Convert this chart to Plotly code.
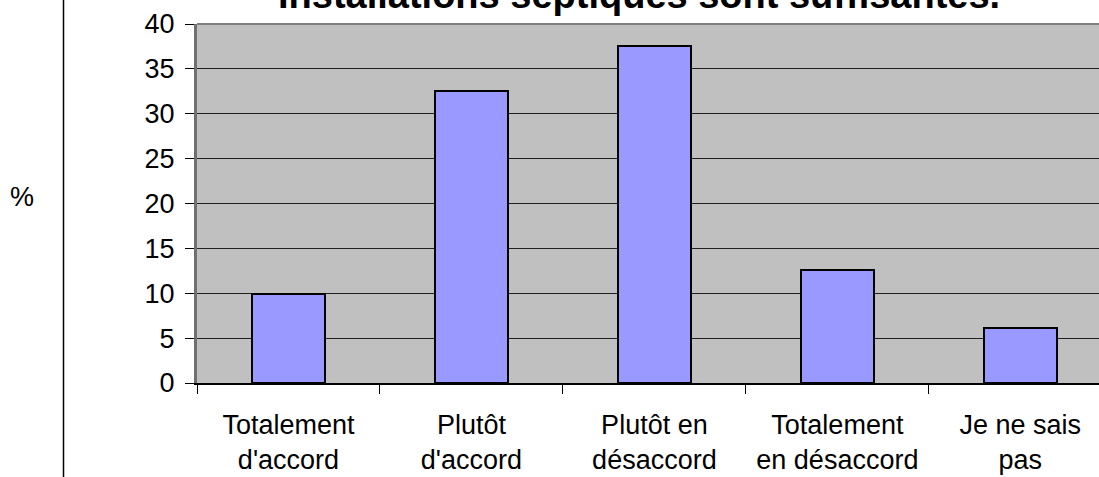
import plotly.graph_objects as go

categories = ["Totalement<br>d'accord", "Plutôt<br>d'accord", "Plutôt en<br>désaccord",
              "Totalement<br>en désaccord", "Je ne sais<br>pas"]
values = [9.9, 32.5, 37.5, 12.6, 6.1]
title_text = "Installations septiques sont suffisantes."
y_label = "%"
y_ticks = [0, 5, 10, 15, 20, 25, 30, 35, 40]

W, H = 1099, 477
ML, MR, MT, MB = 197, 0, 24, 94
PW, PH = W - ML - MR, H - MT - MB
FONT = "Liberation Sans, Arial, sans-serif"

x_pos = list(range(len(categories)))

fig = go.Figure()
fig.add_trace(go.Bar(
    x=x_pos, y=values, width=0.4,
    marker=dict(color="#9999FF", line=dict(color="black", width=2)),
))

def px_to_paper_x(px):
    return (px - ML) / PW

def px_to_paper_y(py):
    return 1 - (py - MT) / PH

fig.update_layout(
    width=W, height=H,
    margin=dict(l=ML, r=MR, t=MT, b=MB, pad=0),
    paper_bgcolor="white", plot_bgcolor="#C0C0C0",
    showlegend=False, bargap=0,
    font=dict(family=FONT, size=27, color="black"),
    xaxis=dict(
        range=[-0.5, 4.43], tickmode="array", tickvals=x_pos, ticktext=categories,
        ticks="", showgrid=False, zeroline=False,
        showline=True, linecolor="black", linewidth=1.5,
        ticklabelstandoff=17,
        tickfont=dict(size=27, family=FONT),
        minor=dict(tick0=-0.5, dtick=1, ticks="outside", ticklen=9,
                   tickcolor="black", tickwidth=1, showgrid=False),
    ),
    yaxis=dict(
        range=[0, 40], tickmode="array", tickvals=y_ticks,
        ticks="outside", ticklen=9, tickcolor="black", tickwidth=1,
        showgrid=True, gridcolor="#202020", gridwidth=1,
        zeroline=False, showline=True, linecolor="#707070", linewidth=3,
        ticklabelstandoff=5,
        tickfont=dict(size=27, family=FONT),
    ),
)

# top border of plot area
fig.add_shape(type="line", xref="paper", yref="paper", x0=0, x1=1, y0=1, y1=1,
              line=dict(color="#808080", width=2))
# left vertical frame line of the chart
fig.add_shape(type="line", xref="paper", yref="paper",
              x0=px_to_paper_x(63.5), x1=px_to_paper_x(63.5),
              y0=px_to_paper_y(H + 5), y1=px_to_paper_y(-5),
              line=dict(color="black", width=1.5))

# y-axis title
fig.add_annotation(text=y_label, xref="paper", yref="paper",
                   x=px_to_paper_x(22), y=px_to_paper_y(197),
                   xanchor="center", yanchor="middle", showarrow=False,
                   font=dict(size=27, family=FONT))
# chart title (partly cut at the top)
fig.add_annotation(text="<b>" + title_text + "</b>", xref="paper", yref="paper",
                   x=px_to_paper_x(639), y=px_to_paper_y(18),
                   xanchor="center", yanchor="bottom", showarrow=False,
                   font=dict(size=38, family=FONT))

fig.write_html(
    "out.html",
    config={"displayModeBar": False},
    post_script="document.body.style.margin='0';document.body.style.overflow='hidden';",
)
